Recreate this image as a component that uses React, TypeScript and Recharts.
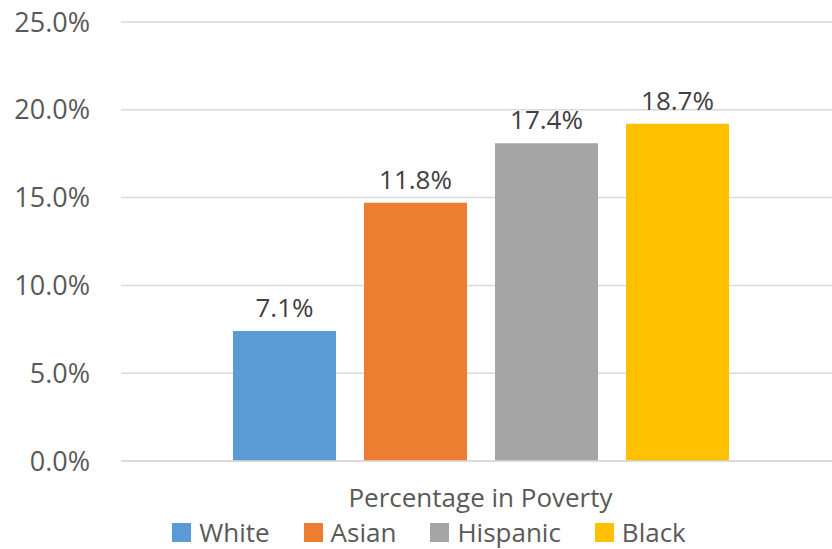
import { BarChart, Bar, XAxis, YAxis, CartesianGrid, Legend, LabelList } from "recharts";

const groups = ["White", "Asian", "Hispanic", "Black"];
const colors = ["#5b9bd5", "#ed7d31", "#a5a5a5", "#ffc000"];
// bar heights as drawn in the picture
const heights = [7.4, 14.7, 18.1, 19.2];
// value labels printed above the bars
const labels = ["7.1%", "11.8%", "17.4%", "18.7%"];
const yTicks = [0, 5, 10, 15, 20, 25];
const category = "Percentage in Poverty";

const data = [
  groups.reduce<Record<string, string | number>>(
    (row, g, i) => {
      row[g] = heights[i];
      return row;
    },
    { name: category }
  ),
];

const font = "'Open Sans', sans-serif";

function LegendRow() {
  return (
    <div
      style={{
        display: "flex",
        justifyContent: "center",
        gap: 34,
        fontSize: 26,
        lineHeight: "26px",
        height: 26,
        color: "#595959",
        fontFamily: font,
        paddingLeft: 18,
        paddingTop: 6,
      }}
    >
      {groups.map((g, i) => (
        <div key={g} style={{ display: "flex", alignItems: "center" }}>
          <span
            style={{ width: 19, height: 19, background: colors[i], marginRight: 8, display: "inline-block" }}
          />
          <span>{g}</span>
        </div>
      ))}
    </div>
  );
}

export default function App() {
  return (
    <div style={{ fontFamily: font }}>
      <style>{"body{margin:0}"}</style>
      <BarChart
        width={832}
        height={549}
        data={data}
        margin={{ top: 22, right: -8, bottom: 0, left: 0 }}
        barGap={28}
        barSize={103}
      >
        <CartesianGrid vertical={false} stroke="#d9d9d9" strokeWidth={1.5} />
        <XAxis
          dataKey="name"
          axisLine={{ stroke: "#d9d9d9", strokeWidth: 1.5 }}
          tickLine={false}
          tick={{ fill: "#595959", fontSize: 26, fontFamily: font }}
          tickMargin={22}
          height={52}
        />
        <YAxis
          domain={[0, 25]}
          ticks={yTicks}
          width={121}
          axisLine={false}
          tickLine={false}
          tickSize={0}
          tickMargin={31}
          tickFormatter={(v: number) => v.toFixed(1) + "%"}
          tick={{ fill: "#595959", fontSize: 27, fontFamily: font }}
        />
        <Legend height={36} verticalAlign="bottom" content={() => <LegendRow />} />
        {groups.map((g, i) => (
          <Bar key={g} dataKey={g} fill={colors[i]} isAnimationActive={false}>
            <LabelList
              dataKey={g}
              position="top"
              offset={14}
              formatter={() => labels[i]}
              style={{ fill: "#404040", fontSize: 26, fontFamily: font }}
            />
          </Bar>
        ))}
      </BarChart>
    </div>
  );
}
